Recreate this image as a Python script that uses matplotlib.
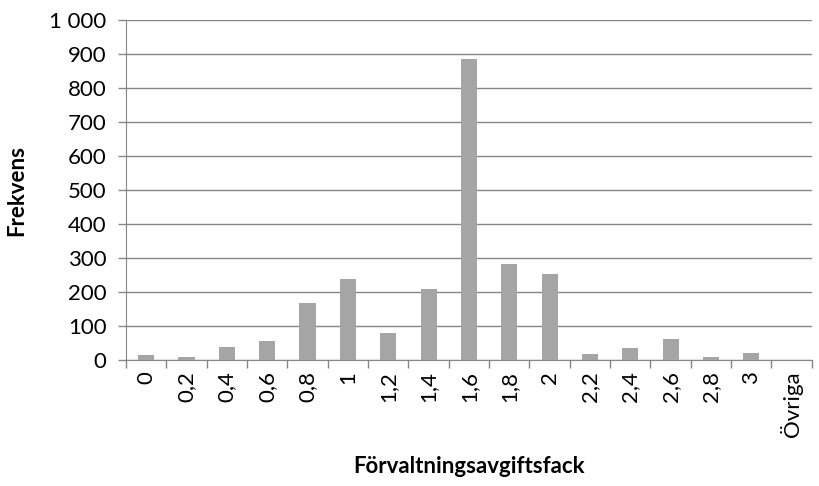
import matplotlib.pyplot as plt
import numpy as np
from matplotlib.ticker import FuncFormatter, FixedLocator

plt.rcParams['font.family'] = ['Lato', 'DejaVu Sans']

# histogram of management fee bins
fack = ["0", "0,2", "0,4", "0,6", "0,8", "1", "1,2", "1,4", "1,6", "1,8", "2",
        "2,2", "2,4", "2,6", "2,8", "3", "Övriga"]
frekvens = [15, 10, 38, 55, 168, 237, 80, 210, 886, 283, 252,
            17, 36, 62, 9, 21, 0]

fig = plt.figure(figsize=(8.2, 4.86), dpi=100)
ax = fig.add_axes([0.1537, 0.259, 0.8363, 0.7])

x = np.arange(len(fack))
ax.bar(x, frekvens, width=0.4, color="#a5a5a5", zorder=3)

ax.set_xlim(-0.5, len(fack) - 0.5)
ax.set_ylim(0, 1000)
ax.set_yticks(np.arange(0, 1001, 100))
ax.yaxis.set_major_formatter(FuncFormatter(lambda v, p: f"{int(v):,}".replace(",", " ")))
ax.grid(axis="y", color="#868686", linewidth=1.0, zorder=0)

ax.set_xticks(x)
ax.set_xticklabels(fack, rotation=90, fontsize=16)
ax.xaxis.set_minor_locator(FixedLocator(np.arange(-0.5, len(fack), 1)))
ax.tick_params(axis="x", which="major", length=0, pad=8)
ax.tick_params(axis="x", which="minor", length=6, color="#868686", width=1)
ax.tick_params(axis="y", length=6, color="#868686", width=1, labelsize=16, pad=8)

for s in ["top", "right"]:
    ax.spines[s].set_visible(False)
for s in ["left", "bottom"]:
    ax.spines[s].set_color("#868686")

ax.set_xlabel("Förvaltningsavgiftsfack", fontsize=16, fontweight="bold", labelpad=14)
ax.set_ylabel("Frekvens", fontsize=16, fontweight="bold", labelpad=16)

fig.savefig("out.png", dpi=100)
